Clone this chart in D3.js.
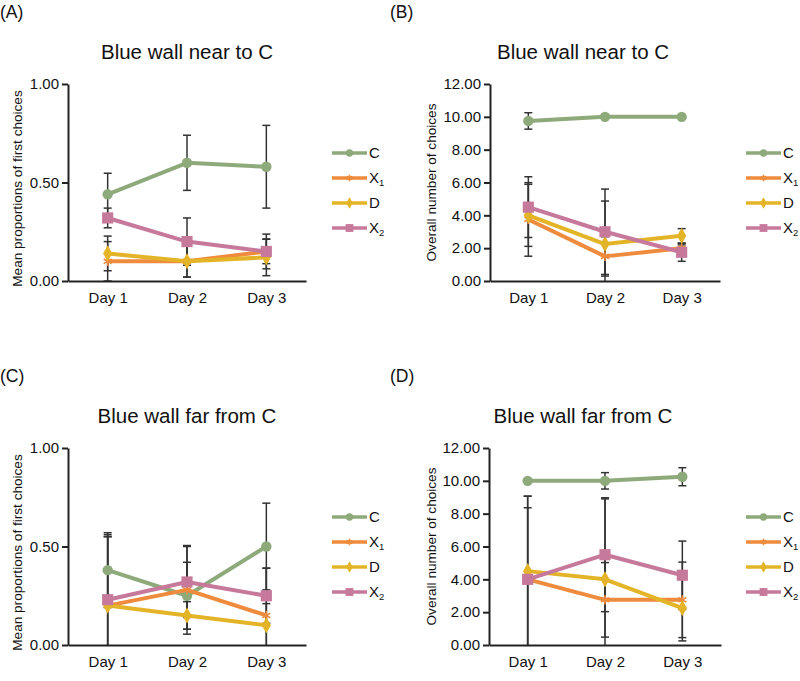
<!DOCTYPE html>
<html><head><meta charset="utf-8">
<script src="https://cdn.jsdelivr.net/npm/d3@7"></script>
<style>
html,body{margin:0;padding:0;background:#fff;}
svg text{font-family:"Liberation Sans",Arial,sans-serif;fill:#111;}
</style></head>
<body><svg id="chart" width="800" height="681"></svg>
<script>
// ---------- data ----------
const days = ["Day 1", "Day 2", "Day 3"];
const seriesKeys = ["C", "X1", "D", "X2"];
const propTicks = [0, 0.5, 1.0];
const countTicks = [0, 2, 4, 6, 8, 10, 12];

// Panel A: Blue wall near to C, mean proportions of first choices
const aC = [0.44, 0.60, 0.58],  aCErr = [0.107, 0.14, 0.21];
const aX1 = [0.10, 0.10, 0.15], aX1Err = [0.10, 0.08, 0.062];
const aD = [0.14, 0.10, 0.12],  aDErr = [0.088, 0.08, 0.093];
const aX2 = [0.32, 0.20, 0.15], aX2Err = [0.05, 0.12, 0.088];

// Panel B: Blue wall near to C, overall number of choices
const bC = [9.75, 10.0, 10.0],  bCErr = [0.5, 0, 0];
const bX1 = [3.75, 1.5, 2.0],   bX1Err = [2.24, 1.2, 0.2];
const bD = [4.0, 2.25, 2.75],   bDErr = [1.89, 2.62, 0.44];
const bX2 = [4.5, 3.0, 1.75],   bX2Err = [1.85, 2.6, 0.55];

// Panel C: Blue wall far from C, mean proportions of first choices
const cC = [0.38, 0.25, 0.50],  cCErr = [0.19, 0.17, 0.22];
const cX1 = [0.20, 0.28, 0.15], cX1Err = [0.35, 0.225, 0.24];
const cD = [0.20, 0.15, 0.10],  cDErr = [0.36, 0.07, 0.11];
const cX2 = [0.23, 0.32, 0.25], cX2Err = [0.32, 0.18, 0.14];

// Panel D: Blue wall far from C, overall number of choices
const dC = [10.0, 10.0, 10.25], dCErr = [0, 0.5, 0.55];
const dX1 = [4.0, 2.75, 2.75],  dX1Err = [4.36, 2.27, 2.3];
const dD = [4.5, 4.0, 2.25],    dDErr = [4.56, 4.9, 2.0];
const dX2 = [4.0, 5.5, 4.25],   dX2Err = [5.07, 3.47, 2.08];

// ---------- styles ----------
const colors = {C: "#8eaa7b", X1: "#ef8b3c", D: "#e4b428", X2: "#c7799b"};
const fmt = d3.format(".2f");

const panels = [
  {tag: "(A)", title: "Blue wall near to C", ylabel: "Mean proportions of first choices",
   yMax: 1, ticks: propTicks, x0: 68, x1: 306, yTop: 84, yBot: 281, ox: 0, oy: 0, lx: 332,
   data: {C: [aC, aCErr], X1: [aX1, aX1Err], D: [aD, aDErr], X2: [aX2, aX2Err]}},
  {tag: "(B)", title: "Blue wall near to C", ylabel: "Overall number of choices",
   yMax: 12, ticks: countTicks, x0: 490, x1: 720, yTop: 84, yBot: 281, ox: 390, oy: 0, lx: 746,
   data: {C: [bC, bCErr], X1: [bX1, bX1Err], D: [bD, bDErr], X2: [bX2, bX2Err]}},
  {tag: "(C)", title: "Blue wall far from C", ylabel: "Mean proportions of first choices",
   yMax: 1, ticks: propTicks, x0: 68, x1: 306, yTop: 448, yBot: 645, ox: 0, oy: 364, lx: 332,
   data: {C: [cC, cCErr], X1: [cX1, cX1Err], D: [cD, cDErr], X2: [cX2, cX2Err]}},
  {tag: "(D)", title: "Blue wall far from C", ylabel: "Overall number of choices",
   yMax: 12, ticks: countTicks, x0: 489, x1: 721, yTop: 448, yBot: 645, ox: 390, oy: 364, lx: 746,
   data: {C: [dC, dCErr], X1: [dX1, dX1Err], D: [dD, dDErr], X2: [dX2, dX2Err]}}
];

const svg = d3.select("#chart");

function marker(key, big) {
  const s = big ? 1 : 0.7;
  if (key === "C") return d3.symbol(d3.symbolCircle, 85 * s * s)();
  if (key === "D") return d3.symbol(d3.symbolDiamond, 75 * s * s)();
  if (key === "X2") return d3.symbol(d3.symbolSquare, 125 * s * s)();
  const t = d3.symbolAsterisk || d3.symbolCross;
  return d3.symbol(t, 60 * s * s)();
}
function styleMarker(sel, key) {
  if (key === "X1") sel.attr("fill", "none").attr("stroke", colors[key]).attr("stroke-width", 1.6);
  else sel.attr("fill", colors[key]).attr("stroke", "none");
}

panels.forEach(p => {
  const g = svg.append("g");
  const x = d3.scalePoint().domain(days).range([p.x0, p.x1]).padding(0.5);
  const y = d3.scaleLinear().domain([0, p.yMax]).range([p.yBot, p.yTop]);

  // panel tag and title
  g.append("text").attr("x", p.ox).attr("y", p.oy + 18).attr("font-size", 17.5).text(p.tag);
  g.append("text").attr("x", (p.x0 + p.x1) / 2 + (p.ox ? -22 : 0)).attr("y", p.oy + 59)
    .attr("text-anchor", "middle").attr("font-size", 20.5).text(p.title);

  // y-axis label
  const lxPos = p.ox + (p.ox ? 432 - 390 : 18);
  const lyPos = (p.yTop + p.yBot) / 2 + (p.ox ? 0 : 6);
  g.append("text").attr("transform", `translate(${lxPos},${lyPos}) rotate(-90)`)
    .attr("text-anchor", "middle").attr("dominant-baseline", "middle")
    .attr("font-size", 13.6).text(p.ylabel);

  // error bars
  const eb = g.append("g").attr("stroke", "#333").attr("stroke-width", 1.5);
  seriesKeys.forEach(k => {
    const [vals, errs] = p.data[k];
    vals.forEach((v, i) => {
      const e = errs[i];
      if (!e) return;
      const cx = x(days[i]);
      const hi = v + e, lo = Math.max(0, v - e);
      eb.append("line").attr("x1", cx).attr("x2", cx).attr("y1", y(hi)).attr("y2", y(lo));
      eb.append("line").attr("x1", cx - 4).attr("x2", cx + 4).attr("y1", y(hi)).attr("y2", y(hi));
      if (v - e >= 0) eb.append("line").attr("x1", cx - 4).attr("x2", cx + 4).attr("y1", y(lo)).attr("y2", y(lo));
    });
  });

  // axes
  const ya = g.append("g").attr("transform", `translate(${p.x0},0)`)
    .call(d3.axisLeft(y).tickValues(p.ticks).tickFormat(fmt).tickSize(6).tickSizeOuter(0).tickPadding(3));
  const xa = g.append("g").attr("transform", `translate(0,${p.yBot})`)
    .call(d3.axisBottom(x).tickSize(0).tickSizeOuter(0).tickPadding(11));
  [ya, xa].forEach(a => {
    a.select(".domain").attr("stroke", "#222").attr("stroke-width", 2);
    a.selectAll(".tick line").attr("stroke", "#222").attr("stroke-width", 2);
    a.selectAll(".tick text").attr("font-size", 15).attr("fill", "#111")
      .attr("font-family", "Liberation Sans, Arial, sans-serif");
  });

  // lines and markers
  const line = d3.line().x((d, i) => x(days[i])).y(d => y(d));
  seriesKeys.forEach(k => {
    const vals = p.data[k][0];
    g.append("path").datum(vals).attr("d", line).attr("fill", "none")
      .attr("stroke", colors[k]).attr("stroke-width", 4).attr("stroke-linejoin", "round");
    vals.forEach((v, i) => {
      g.append("path").attr("d", marker(k, true))
        .attr("transform", `translate(${x(days[i])},${y(v)})`).call(styleMarker, k);
    });
  });

  // legend
  const ly0 = p.yBot - 128;
  seriesKeys.forEach((k, i) => {
    const ly = ly0 + i * 25;
    const lg = g.append("g");
    lg.append("line").attr("x1", p.lx).attr("x2", p.lx + 35).attr("y1", ly).attr("y2", ly)
      .attr("stroke", colors[k]).attr("stroke-width", 3.5);
    lg.append("path").attr("d", marker(k, false)).attr("transform", `translate(${p.lx + 17.5},${ly})`)
      .call(styleMarker, k);
    const t = lg.append("text").attr("x", p.lx + 37).attr("y", ly + 5).attr("font-size", 15);
    if (k.length > 1) {
      t.append("tspan").text(k[0]);
      t.append("tspan").attr("font-size", 9.5).attr("dy", 3).text(k.slice(1));
    } else t.text(k);
  });
});
</script>
</body></html>
